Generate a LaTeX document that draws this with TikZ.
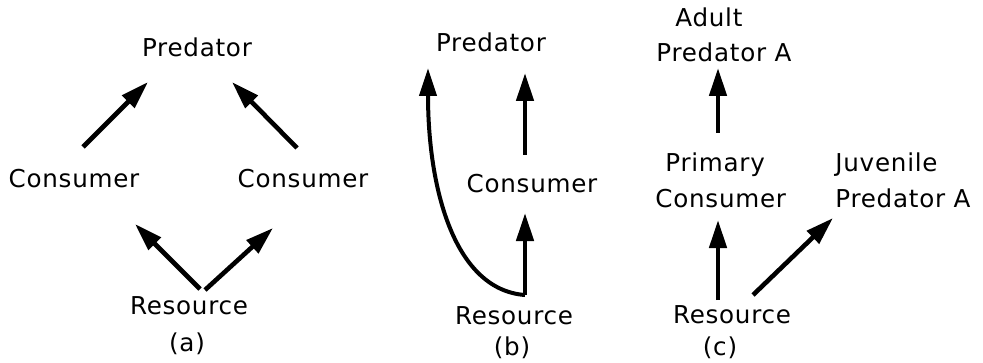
\documentclass[tikz,border=0pt]{standalone}
\usepackage{fontspec}
\setmainfont{DejaVu Sans}[LetterSpace=3]
\usetikzlibrary{arrows.meta,calc}
\newcommand\twoline[2]{\begin{tabular}[t]{@{}l@{}}#1\\#2\end{tabular}}
\begin{document}
\begin{tikzpicture}[x=0.5pt,y=-0.5pt,
  lbl/.style={font=\fontsize{12.3}{17.5}\selectfont, inner sep=0pt},
  arr/.style={line width=2.3pt, -{Triangle[length=14pt,width=8.5pt]}},
  curvearr/.style={line width=2pt, -{Triangle[length=14pt,width=8.5pt]}},
]
\useasboundingbox (0,0) rectangle (983,363);
% panel (a)
\node[lbl,anchor=base] (pa) at (197,57) {Predator};
\node[lbl,anchor=base] (cl) at (74,187) {Consumer};
\node[lbl,anchor=base] (cr) at (303,187) {Consumer};
\node[lbl,anchor=base] (ra) at (189,314) {Resource};
\node[lbl,anchor=base] (la) at (187,351) {(a)};
\draw[arr] ($(cl.base)+(9,-40)$) -- ($(pa.base)+(-49,25)$);
\draw[arr] ($(cr.base)+(-6,-39)$) -- ($(pa.base)+(35,25)$);
\draw[arr] ($(ra.base)+(11,-25)$) -- ($(cl.base)+(61,37)$);
\draw[arr] ($(ra.base)+(16,-24)$) -- ($(cr.base)+(-30,41)$);
% panel (b)
\node[lbl,anchor=base] (pb) at (491,52) {Predator};
\node[lbl,anchor=base] (cb) at (532,192) {Consumer};
\node[lbl,anchor=base] (rb) at (514,324) {Resource};
\node[lbl,anchor=base] (lb) at (512,355) {(b)};
\draw[arr] ($(cb.base)+(-7,-37)$) -- ($(pb.base)+(34,21)$);
\draw[arr] ($(rb.base)+(11,-29)$) -- ($(cb.base)+(-7,21)$);
\draw[curvearr] ($(rb.base)+(11,-29)$) .. controls ($(rb.base)+(-59,-34)$) and ($(pb.base)+(-63,138)$) .. ($(pb.base)+(-63,16)$);
% panel (c)
\node[lbl,anchor=base west] (ac) at (656,27) {\twoline{\hspace*{9.5pt}Adult}{Predator A}};
\node[lbl,anchor=base west] (pcn) at (655,172) {\twoline{\hspace*{5pt}Primary}{Consumer}};
\node[lbl,anchor=base west] (jp) at (835,172) {\twoline{Juvenile}{Predator A}};
\node[lbl,anchor=base] (rc) at (732,323) {Resource};
\node[lbl,anchor=base] (lc) at (720,355) {(c)};
\draw[arr] ($(pcn.base west)+(63,-39)$) -- ($(ac.base west)+(62,41)$);
\draw[arr] ($(rc.base)+(-14,-23)$) -- ($(pcn.base west)+(63,48)$);
\draw[arr] ($(rc.base)+(21,-28)$) -- ($(jp.base west)+(-2,46)$);
\end{tikzpicture}
\end{document}
